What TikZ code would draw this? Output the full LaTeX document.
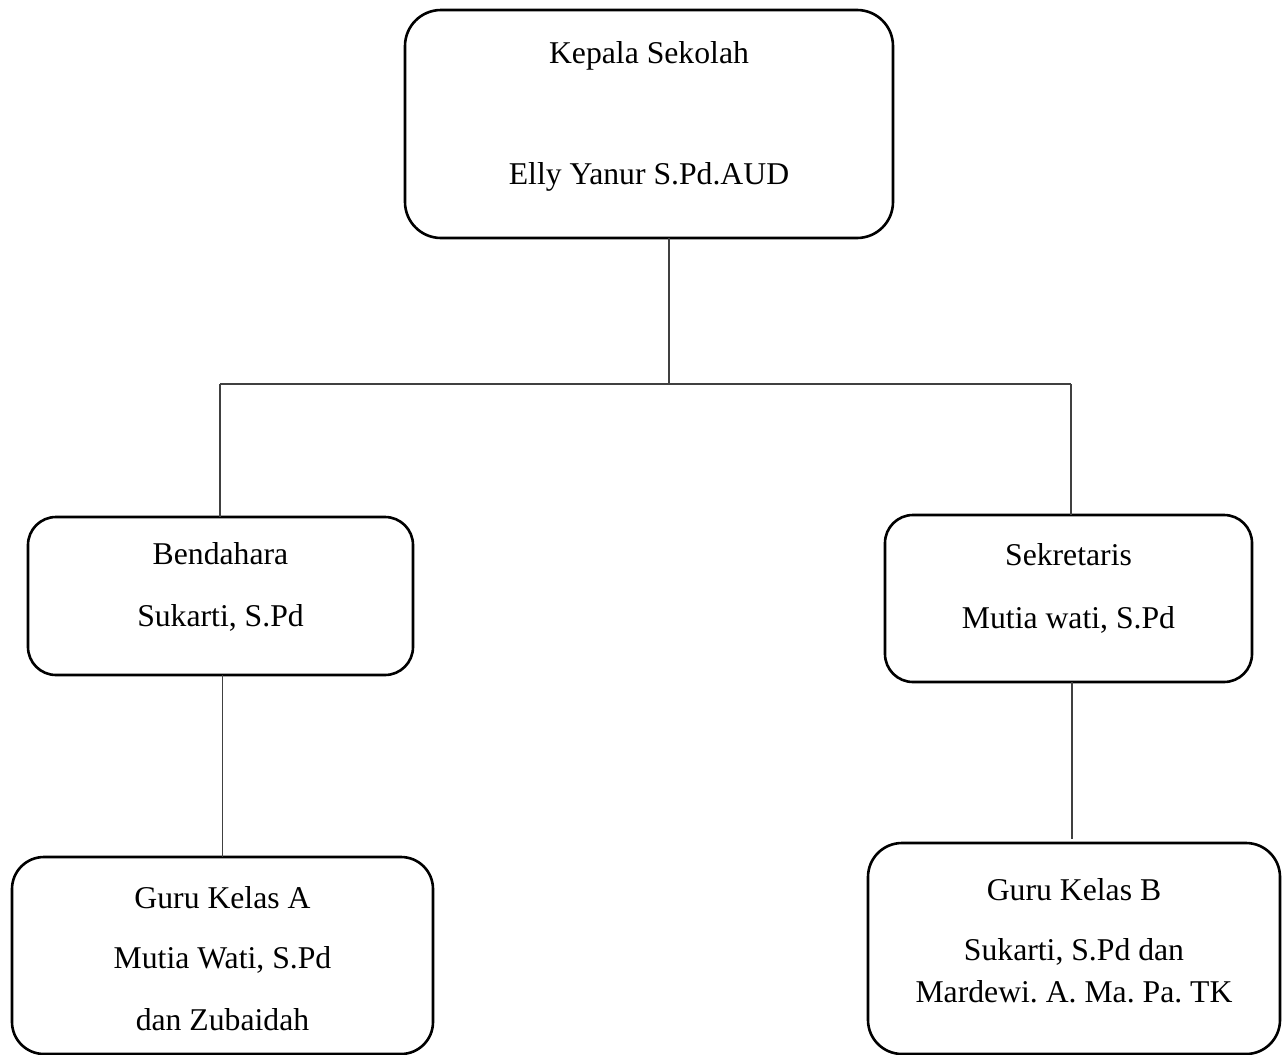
\documentclass[tikz,border=0pt]{standalone}
\usepackage{fontspec}
\setmainfont{Liberation Serif}
\frenchspacing
\begin{document}
\begin{tikzpicture}[x=1pt,y=-1pt,
  box/.style={draw=black,line width=2.6pt,rectangle,inner sep=0pt,outer sep=0pt},
  lbl/.style={anchor=base,inner sep=0pt,font=\fontsize{31.7}{38}\selectfont\frenchspacing},
  conn/.style={draw=black!75,line width=1.6pt}]
\useasboundingbox[fill=white] (0,0) rectangle (1286,1055);
% boxes
\node[box,rounded corners=36pt,minimum width=488pt,minimum height=228pt] (top) at (649,124) {};
\node[box,rounded corners=28pt,minimum width=385pt,minimum height=158pt] (bend) at (220.5,596) {};
\node[box,rounded corners=28pt,minimum width=367pt,minimum height=167pt] (sek) at (1068.5,598.5) {};
\node[box,rounded corners=32pt,minimum width=421pt,minimum height=197pt] (ga) at (222.5,955.5) {};
\node[box,rounded corners=34pt,minimum width=412pt,minimum height=211pt] (gb) at (1074,948.5) {};
% texts
\node[lbl] (t1) at (649,63) {Kepala Sekolah};
\node[lbl] (t2) at (649,184) {Elly Yanur S.Pd.AUD};
\node[lbl] (b1) at (220.5,564) {Bendahara};
\node[lbl] (b2) at (220.5,626) {Sukarti, S.Pd};
\node[lbl] (s1) at (1068.5,565) {Sekretaris};
\node[lbl] (s2) at (1068.5,628) {Mutia wati, S.Pd};
\node[lbl] (a1) at (222.5,908) {Guru Kelas A};
\node[lbl] (a2) at (222.5,968) {Mutia Wati, S.Pd};
\node[lbl] (a3) at (222.5,1030) {dan Zubaidah};
\node[lbl] (g1) at (1074,900) {Guru Kelas B};
\node[lbl] (g2) at (1074,960) {Sukarti, S.Pd dan};
\node[lbl] (g3) at (1074,1002) {Mardewi. A. Ma. Pa. TK};
% connectors
\coordinate (jn) at (669,384);
\coordinate (jl) at (220,384);
\coordinate (jr) at (1071,384);
\coordinate (bx) at (1072,839);
\draw[conn] (top.south -| jn) -- (jn);
\draw[conn] (jl) -- (jr);
\draw[conn] (jl) -- (jl |- bend.north);
\draw[conn] (jr) -- (jr |- sek.north);
\draw[conn] (bend.south -| ga.north) -- (ga.north);
\draw[conn] (bx |- sek.south) -- (bx);
\end{tikzpicture}
\end{document}
